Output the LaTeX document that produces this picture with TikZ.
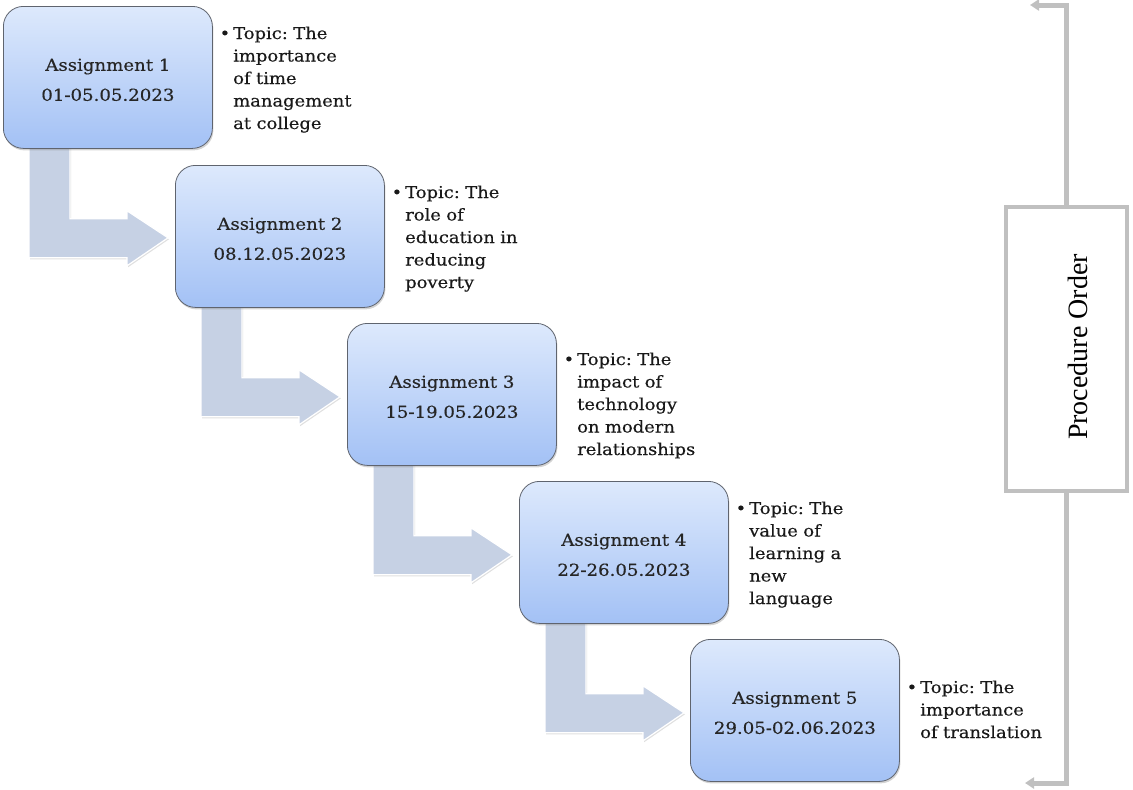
\documentclass[tikz,border=0pt]{standalone}
\usepackage{fontspec}
\setmainfont[FakeStretch=1.1,FakeBold=0.35]{DejaVu Serif}
\newfontfamily\labelfont{Liberation Serif}
\usetikzlibrary{shadows,arrows.meta,backgrounds}
\frenchspacing
\definecolor{boxtop}{RGB}{221,233,252}
\definecolor{boxbot}{RGB}{163,193,245}
\definecolor{boxline}{RGB}{95,100,110}
\definecolor{arrowfill}{RGB}{198,209,228}
\definecolor{brgray}{RGB}{192,192,192}
\tikzset{
  abox/.style={draw=boxline, line width=0.8pt, rounded corners=20pt,
    top color=boxtop, bottom color=boxbot,
    minimum width=209pt, minimum height=142pt, inner sep=0pt,
    align=center, anchor=north west,
    font=\fontsize{16.5}{30}\selectfont, text=black!85,
    drop shadow={opacity=0.35, shadow xshift=1pt, shadow yshift=-2pt}},
  topic/.style={anchor=base west, inner sep=0pt, text width=150pt, align=left,
    font=\fontsize{16.3}{22.5}\selectfont, text=black!90},
  bentarrow/.style={fill=arrowfill, draw=white, line width=1.2pt,
    drop shadow={opacity=0.25, shadow xshift=1pt, shadow yshift=-1.5pt}},
  bracket/.style={draw=brgray, line width=5pt},
  pobox/.style={draw=brgray, line width=4pt, fill=white, minimum width=121pt,
    minimum height=284pt, inner sep=0pt}
}
\newcommand{\bul}{\llap{\textbullet\hspace{3pt}}}
\begin{document}
\begin{tikzpicture}[x=1pt,y=-1pt]
\useasboundingbox (0,0) rectangle (1133,790);
% boxes
\node[abox] (b1) at (3,6) {\strut\\[-34pt]Assignment 1\\01-05.05.2023};
\node[abox] (b2) at (175,165) {\strut\\[-34pt]Assignment 2\\08.12.05.2023};
\node[abox] (b3) at (347,323) {\strut\\[-34pt]Assignment 3\\15-19.05.2023};
\node[abox] (b4) at (519,481) {\strut\\[-34pt]Assignment 4\\22-26.05.2023};
\node[abox] (b5) at (690,639) {\strut\\[-34pt]Assignment 5\\29.05-02.06.2023};
% topics
\node[topic] (t1) at (233,39) {\bul Topic: The\\importance\\of time\\management\\at college};
\node[topic] (t2) at (405,198) {\bul Topic: The\\role of\\education in\\reducing\\poverty};
\node[topic] (t3) at (577,365) {\bul Topic: The\\impact of\\technology\\on modern\\relationships};
\node[topic] (t4) at (749,514) {\bul Topic: The\\value of\\learning a\\new\\language};
\node[topic] (t5) at (920,693) {\bul Topic: The\\importance\\of translation};
% bent arrows
\begin{scope}[on background layer]
\foreach \i in {1,2,3,4}{
  \begin{scope}[shift={(b\i.south west)}]
    \draw[bentarrow] (26,-6) -- (67,-6) -- (67,70) -- (124,70) -- (124,62)
      -- (165,89) -- (124,117) -- (124,109) -- (26,109) -- cycle;
  \end{scope}
}
\end{scope}
% procedure order bracket
\node[pobox] (po) at (1066.5,349) {};
\node[rotate=90, font=\labelfont\fontsize{28}{30}\selectfont] (pot) at (1078,347) {Procedure Order};
\coordinate (topend) at (1030,5);
\coordinate (botend) at (1025,783);
\draw[bracket, -{Triangle[length=9pt,width=11pt]}] (po.north) |- (topend);
\draw[bracket, -{Triangle[length=9pt,width=11pt]}] (po.south) |- (botend);
\end{tikzpicture}
\end{document}
